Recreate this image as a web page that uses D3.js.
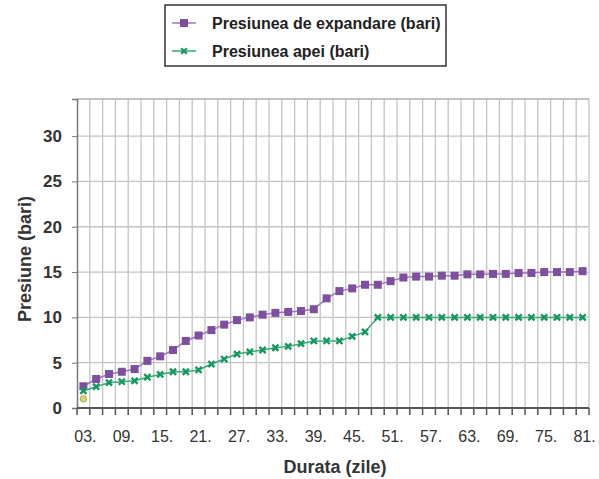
<!DOCTYPE html>
<html>
<head>
<meta charset="utf-8">
<title>Presiune</title>
<script src="https://cdn.jsdelivr.net/npm/d3@7"></script>
<style>
body { margin: 0; background: #fff; }
text { font-family: "Liberation Sans", Arial, sans-serif; }
</style>
</head>
<body>
<svg id="chart" width="599" height="479"></svg>
<script>
// zile (din 2 in 2), etichete "03." ... "81."
var zile = ["03.","05.","07.","09.","11.","13.","15.","17.","19.","21.",
            "23.","25.","27.","29.","31.","33.","35.","37.","39.","41.",
            "43.","45.","47.","49.","51.","53.","55.","57.","59.","61.",
            "63.","65.","67.","69.","71.","73.","75.","77.","79.","81."];
var expandare = [2.4, 3.2, 3.75, 4.0, 4.3, 5.2, 5.7, 6.4, 7.4, 8.0,
                 8.6, 9.2, 9.7, 10.0, 10.3, 10.5, 10.6, 10.7, 10.9, 12.1,
                 12.9, 13.2, 13.6, 13.6, 14.0, 14.4, 14.5, 14.5, 14.6, 14.6,
                 14.75, 14.75, 14.8, 14.8, 14.9, 14.9, 15.0, 15.0, 15.0, 15.1];
var apa = [1.9, 2.35, 2.8, 2.9, 3.0, 3.4, 3.7, 4.0, 4.0, 4.2,
           4.85, 5.4, 5.95, 6.2, 6.4, 6.65, 6.8, 7.1, 7.4, 7.4,
           7.4, 7.9, 8.4, 10, 10, 10, 10, 10, 10, 10,
           10, 10, 10, 10, 10, 10, 10, 10, 10, 10];
var punctInitial = [1.0];   // punct izolat la prima zi
var yTicks = [0, 5, 10, 15, 20, 25, 30];

var svg = d3.select("#chart");
var pLeft = 77, pRight = 589, pTop = 99, pBottom = 408;

var x = d3.scaleBand().domain(zile).range([pLeft, pRight]).padding(0);
var y = d3.scaleLinear().domain([0, 34.1]).range([pBottom, pTop]);
var cx = function(d, i) { return x(zile[i]) + x.bandwidth() / 2; };

// grila
svg.append("g").selectAll("line")
  .data(zile)
  .enter().append("line")
  .attr("x1", function(d, i) { return pLeft + (i + 1) * x.bandwidth(); })
  .attr("x2", function(d, i) { return pLeft + (i + 1) * x.bandwidth(); })
  .attr("y1", pTop).attr("y2", pBottom)
  .attr("stroke", "#c4c4c4").attr("stroke-width", 1.3);

svg.append("g").selectAll("line")
  .data(yTicks.slice(1))
  .enter().append("line")
  .attr("x1", pLeft).attr("x2", pRight)
  .attr("y1", function(d) { return y(d); }).attr("y2", function(d) { return y(d); })
  .attr("stroke", "#c4c4c4").attr("stroke-width", 1.3);

svg.append("line").attr("x1", pLeft).attr("x2", pRight).attr("y1", pTop).attr("y2", pTop)
  .attr("stroke", "#b0b0b0").attr("stroke-width", 1.3);

// axe
var yAxis = d3.axisLeft(y).tickValues(yTicks).tickSize(5).tickPadding(10);
var gy = svg.append("g").attr("transform", "translate(" + pLeft + ",0)").call(yAxis);
gy.select(".domain").attr("stroke", "#777").attr("stroke-width", 1.5);
gy.selectAll(".tick line").attr("stroke", "#777");
gy.selectAll("text").attr("font-size", 17).attr("font-weight", "bold").attr("fill", "#333")
  .attr("font-family", "Liberation Sans, Arial, sans-serif");

var gx = svg.append("g").attr("transform", "translate(0," + pBottom + ")");
gx.append("line").attr("x1", pLeft).attr("x2", pRight).attr("stroke", "#555").attr("stroke-width", 2);
gx.selectAll("line.t").data(zile.concat(["end"])).enter().append("line").attr("class", "t")
  .attr("x1", function(d, i) { return pLeft + i * x.bandwidth(); })
  .attr("x2", function(d, i) { return pLeft + i * x.bandwidth(); })
  .attr("y1", 0).attr("y2", 7).attr("stroke", "#555").attr("stroke-width", 1.5);
gx.selectAll("text").data(zile.filter(function(d, i) { return i % 3 === 0; }))
  .enter().append("text")
  .attr("x", function(d) { return x(d) + x.bandwidth() / 2 + 2; })
  .attr("y", 34)
  .attr("text-anchor", "middle")
  .attr("font-size", 16).attr("fill", "#333")
  .text(function(d) { return d; });

// titluri axe
svg.append("text").attr("x", 335).attr("y", 473).attr("text-anchor", "middle")
  .attr("font-size", 18).attr("font-weight", "bold").attr("fill", "#333").text("Durata (zile)");
svg.append("text").attr("transform", "translate(31,259) rotate(-90)").attr("text-anchor", "middle")
  .attr("font-size", 18).attr("font-weight", "bold").attr("fill", "#333").text("Presiune (bari)");

// serii
var line = d3.line().x(cx).y(function(d) { return y(d); });
svg.append("path").datum(expandare).attr("d", line)
  .attr("fill", "none").attr("stroke", "#9a78b8").attr("stroke-width", 1.5);
svg.append("g").selectAll("rect").data(expandare).enter().append("rect")
  .attr("x", function(d, i) { return cx(d, i) - 4; })
  .attr("y", function(d) { return y(d) - 4; })
  .attr("width", 8).attr("height", 8).attr("fill", "#7d4f9e");

svg.append("path").datum(apa).attr("d", line)
  .attr("fill", "none").attr("stroke", "#3aa878").attr("stroke-width", 1.5);
svg.append("g").selectAll("path").data(apa).enter().append("path")
  .attr("d", d3.symbol(d3.symbolX, 26))
  .attr("transform", function(d, i) { return "translate(" + cx(d, i) + "," + y(d) + ")"; })
  .attr("stroke", "#14985e").attr("stroke-width", 2.4);

svg.append("g").selectAll("circle").data(punctInitial).enter().append("circle")
  .attr("cx", cx).attr("cy", function(d) { return y(d); }).attr("r", 3.2)
  .attr("fill", "#e0d868").attr("stroke", "#9aa860").attr("stroke-width", 1);

// legenda
var lg = svg.append("g");
lg.append("rect").attr("x", 165).attr("y", 5).attr("width", 281).attr("height", 61)
  .attr("fill", "#fff").attr("stroke", "#333").attr("stroke-width", 1.5);
var items = [
  { name: "Presiunea de expandare (bari)", c: "#9a78b8", m: "#7d4f9e", sq: true },
  { name: "Presiunea apei (bari)", c: "#3aa878", m: "#14985e", sq: false }
];
items.forEach(function(it, i) {
  var yy = 23 + i * 28;
  lg.append("line").attr("x1", 172).attr("x2", 196).attr("y1", yy).attr("y2", yy)
    .attr("stroke", it.c).attr("stroke-width", 1.5);
  if (it.sq) {
    lg.append("rect").attr("x", 180).attr("y", yy - 4).attr("width", 8).attr("height", 8).attr("fill", it.m);
  } else {
    lg.append("path").attr("d", d3.symbol(d3.symbolX, 22)).attr("transform", "translate(184," + yy + ")")
      .attr("stroke", it.m).attr("stroke-width", 2.2);
  }
  lg.append("text").attr("x", 212).attr("y", yy + 6).attr("font-size", 16).attr("font-weight", "bold")
    .attr("fill", "#222").text(it.name);
});
</script>
</body>
</html>
